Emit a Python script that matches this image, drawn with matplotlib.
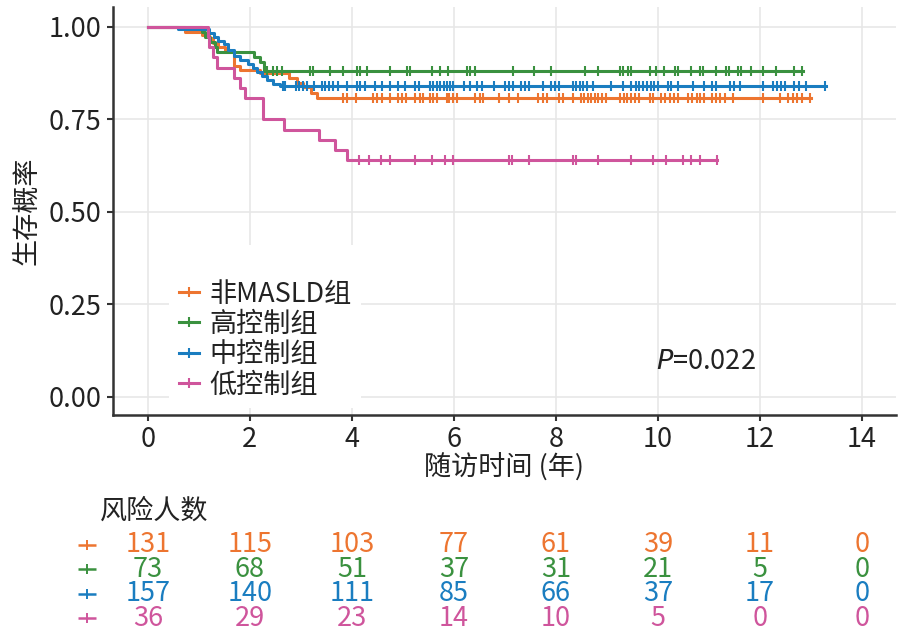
import numpy as np
import matplotlib
matplotlib.use('Agg')
import matplotlib.pyplot as plt

plt.rcParams['font.family'] = ['Noto Sans CJK SC', 'DejaVu Sans']
plt.rcParams['mathtext.fontset'] = 'custom'
plt.rcParams['mathtext.rm'] = 'Noto Sans CJK SC'
plt.rcParams['mathtext.it'] = 'DejaVu Sans:italic'

#%% data

groups = ['非MASLD组', '高控制组', '中控制组', '低控制组']
colors = ['#ED7530', '#3A913F', '#1A7DC0', '#CF559C']

# event times / survival after each step
orange_t = [0.73, 1.06, 1.19, 1.27, 1.38, 1.52, 1.68, 1.80, 2.20, 2.76, 2.92, 3.05, 3.19, 3.31]
orange_s = [0.985, 0.977, 0.969, 0.955, 0.945, 0.935, 0.893, 0.882, 0.874, 0.861, 0.848, 0.837, 0.821, 0.808]
orange_end = 13.0

green_t = [1.06, 1.12, 1.22, 1.31, 1.35, 2.08, 2.19, 2.27]
green_s = [0.986, 0.973, 0.959, 0.945, 0.932, 0.918, 0.904, 0.879]
green_end = 12.85

blue_t = [0.60, 1.20, 1.29, 1.38, 1.50, 1.58, 1.68, 1.81, 1.96, 2.07, 2.14, 2.24, 2.33, 2.46, 2.60]
blue_s = [0.994, 0.984, 0.973, 0.962, 0.952, 0.936, 0.922, 0.911, 0.900, 0.889, 0.877, 0.866, 0.855, 0.845, 0.840]
blue_end = 13.3

pink_t = [1.17, 1.19, 1.27, 1.35, 1.68, 1.81, 1.91, 2.25, 2.66, 3.35, 3.67, 3.91]
pink_s = [0.972, 0.944, 0.917, 0.889, 0.861, 0.833, 0.806, 0.750, 0.722, 0.694, 0.667, 0.639]
pink_end = 11.16

# censoring times
orange_cens = [3.82, 3.90, 4.08, 4.42, 4.49, 4.59, 4.74, 4.90, 4.98, 5.06, 5.24, 5.34, 5.40,
               5.54, 5.60, 5.67, 5.86, 5.91, 5.99, 6.06, 6.42, 6.52, 6.58, 6.89, 7.09, 7.25,
               7.66, 7.75, 7.82, 8.07, 8.15, 8.33, 8.50, 8.56, 8.63, 8.69, 8.76, 8.82, 8.90,
               8.99, 9.25, 9.33, 9.39, 9.48, 9.55, 9.64, 9.84, 9.91, 10.06, 10.14, 10.23,
               10.31, 10.39, 10.59, 10.67, 10.76, 10.83, 10.91, 11.06, 11.14, 11.22, 11.31,
               11.48, 12.07, 12.40, 12.56, 12.65, 12.73, 12.82, 12.99]
green_cens = [2.33, 2.46, 2.54, 2.63, 3.17, 3.24, 3.57, 3.82, 4.10, 4.16, 4.29, 4.75, 5.08,
              5.14, 5.57, 5.73, 5.89, 6.25, 6.32, 6.42, 7.16, 7.58, 7.91, 8.57, 8.82, 9.25,
              9.31, 9.41, 9.48, 9.84, 9.97, 10.13, 10.33, 10.39, 10.65, 10.82, 10.88, 11.14,
              11.34, 11.40, 11.57, 11.63, 11.83, 12.06, 12.32, 12.68, 12.82]
blue_cens = [2.65, 2.69, 2.91, 2.97, 3.04, 3.12, 3.25, 3.41, 3.48, 3.56, 3.64, 3.72, 3.90,
             4.10, 4.16, 4.26, 4.46, 4.59, 4.74, 4.91, 5.05, 5.24, 5.31, 5.54, 5.60, 5.67,
             5.73, 5.80, 5.86, 5.93, 5.99, 6.19, 6.32, 6.45, 6.55, 6.78, 7.01, 7.09, 7.16,
             7.32, 7.40, 7.48, 7.75, 7.91, 7.99, 8.07, 8.33, 8.40, 8.48, 8.54, 8.61, 8.73,
             9.08, 9.31, 9.48, 9.57, 9.64, 9.71, 9.78, 9.87, 9.93, 10.00, 10.20, 10.26,
             10.40, 10.69, 10.91, 11.06, 11.14, 11.42, 11.50, 11.61, 12.07, 12.25, 12.33,
             12.42, 12.50, 12.68, 12.76, 12.91, 13.28]
pink_cens = [4.15, 4.33, 4.57, 4.74, 5.24, 5.57, 5.83, 5.98, 7.09, 7.15, 7.48, 8.33, 8.39,
             8.82, 9.48, 9.90, 10.16, 10.49, 10.65, 10.82, 11.16]

# numbers at risk
risk_times = [0, 2, 4, 6, 8, 10, 12, 14]
risk_orange = [131, 115, 103, 77, 61, 39, 11, 0]
risk_green = [73, 68, 51, 37, 31, 21, 5, 0]
risk_blue = [157, 140, 111, 85, 66, 37, 17, 0]
risk_pink = [36, 29, 23, 14, 10, 5, 0, 0]

curves = [(orange_t, orange_s, orange_end, orange_cens),
          (green_t, green_s, green_end, green_cens),
          (blue_t, blue_s, blue_end, blue_cens),
          (pink_t, pink_s, pink_end, pink_cens)]
risks = [risk_orange, risk_green, risk_blue, risk_pink]

#%% figure

dark = '#333333'
txt = '#222222'
fs = 19.5
fig = plt.figure(figsize=(9.05, 6.38), dpi=100)
ax = fig.add_axes([0.1245, 0.3495, 0.8655, 0.6391])

for (et, es, tend, cens), col, lab in zip(curves, colors, groups):
    tt = np.r_[0, et, tend]
    ss = np.r_[1.0, es, es[-1]]
    ax.step(tt, ss, where='post', color=col, lw=2.2, zorder=3)
    idx = np.searchsorted(tt, cens, side='right') - 1
    ax.plot(cens, ss[idx], ls='none', marker='|', ms=7.5, mew=1.5, color=col, zorder=3)
    # legend proxy
    ax.plot([], [], color=col, lw=2.2, marker='|', ms=7.5, mew=1.5, label=lab)

ax.set_xlim(-0.69, 14.67)
ax.set_ylim(-0.05, 1.0525)
ax.set_xticks(range(0, 15, 2))
ax.set_yticks([0, 0.25, 0.5, 0.75, 1.0])
ax.set_yticklabels(['0.00', '0.25', '0.50', '0.75', '1.00'])
ax.grid(color='#e6e6e6', lw=1.1)
ax.set_axisbelow(True)
for s in ['top', 'right']:
    ax.spines[s].set_visible(False)
for s in ['left', 'bottom']:
    ax.spines[s].set_color(dark)
    ax.spines[s].set_linewidth(1.8)
ax.tick_params(colors=dark, length=4, width=1.5, labelsize=fs, pad=4, labelcolor=txt)
ax.set_xlabel('随访时间 (年)', fontsize=fs, color=txt, labelpad=0)
ax.set_ylabel('生存概率', fontsize=fs, color=txt, labelpad=6)

leg = ax.legend(loc='upper left', bbox_to_anchor=(0.072, 0.417), title=' ', title_fontsize=16,
                fontsize=fs, frameon=True, facecolor='white', edgecolor='none', framealpha=1,
                borderpad=0.35, borderaxespad=0, handlelength=0.75, handletextpad=0.4,
                labelspacing=0.12, fancybox=False)
for t in leg.get_texts():
    t.set_color(txt)

ax.text(9.97, 0.094, r'$P$=0.022', fontsize=fs, color=txt, va='center', ha='left')

#%% risk table
ax2 = fig.add_axes([0.1245, (638 - 628) / 638, 0.8655, 133 / 638])
ax2.set_xlim(ax.get_xlim())
ax2.set_ylim(3.40, -2.03)
ax2.axis('off')
ax2.text(-0.94, -1.38, '风险人数', fontsize=fs, color=txt, ha='left', va='center')
for i, (vals, col) in enumerate(zip(risks, colors)):
    ax2.plot([-1.19], [i], ls='none', marker='_', ms=13, mew=1.8, color=col, clip_on=False)
    ax2.plot([-1.19], [i], ls='none', marker='|', ms=7, mew=1.4, color=col, clip_on=False)
    for t, v in zip(risk_times, vals):
        ax2.text(t, i, str(v), fontsize=fs, color=col, ha='center', va='center')

fig.savefig('out.png', dpi=100)
